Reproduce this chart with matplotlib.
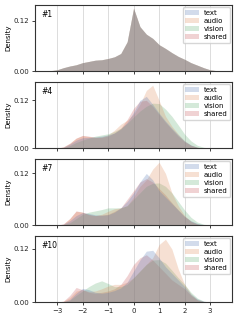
import matplotlib
matplotlib.use("Agg")
import matplotlib.pyplot as plt
from matplotlib.patches import Patch

grid = [-3.5, -3.25, -3.0, -2.75, -2.5, -2.25, -2.0, -1.75, -1.5, -1.25, -1.0, -0.75, -0.5, -0.25,
        0.0, 0.25, 0.5, 0.75, 1.0, 1.25, 1.5, 1.75, 2.0, 2.25, 2.5, 2.75, 3.0, 3.25, 3.5]

modalities = ["text", "audio", "vision", "shared"]
panel_labels = ["#1", "#4", "#7", "#10"]

p1_all = [0, 0.001, 0.003, 0.008, 0.012, 0.015, 0.020, 0.023, 0.026, 0.027, 0.030, 0.034, 0.042, 0.070,
          0.150, 0.106, 0.088, 0.078, 0.063, 0.054, 0.044, 0.035, 0.028, 0.020, 0.014, 0.008, 0.003, 0.001, 0]

p4_text = [0, 0, 0, 0.002, 0.010, 0.020, 0.026, 0.027, 0.028, 0.030, 0.033, 0.038, 0.048, 0.065,
           0.090, 0.120, 0.130, 0.110, 0.088, 0.068, 0.050, 0.033, 0.018, 0.008, 0.002, 0, 0, 0, 0]
p4_audio = [0, 0, 0, 0.003, 0.012, 0.025, 0.031, 0.029, 0.027, 0.028, 0.033, 0.045, 0.060, 0.070,
            0.085, 0.110, 0.145, 0.158, 0.120, 0.080, 0.055, 0.035, 0.018, 0.007, 0.002, 0, 0, 0, 0]
p4_vision = [0, 0, 0, 0.001, 0.006, 0.014, 0.020, 0.025, 0.030, 0.033, 0.036, 0.042, 0.050, 0.062,
             0.078, 0.093, 0.105, 0.113, 0.112, 0.098, 0.080, 0.058, 0.035, 0.018, 0.007, 0.002, 0, 0, 0]
p4_shared = [0, 0, 0, 0.003, 0.012, 0.025, 0.032, 0.030, 0.027, 0.027, 0.030, 0.038, 0.050, 0.072,
             0.100, 0.118, 0.120, 0.105, 0.085, 0.065, 0.047, 0.030, 0.016, 0.007, 0.002, 0, 0, 0, 0]

p7_text = [0, 0, 0, 0.002, 0.010, 0.022, 0.029, 0.027, 0.024, 0.023, 0.024, 0.030, 0.040, 0.055,
           0.075, 0.100, 0.120, 0.105, 0.080, 0.065, 0.050, 0.035, 0.020, 0.010, 0.004, 0.001, 0, 0, 0]
p7_audio = [0, 0, 0, 0.002, 0.015, 0.032, 0.030, 0.024, 0.022, 0.025, 0.032, 0.038, 0.040, 0.045,
            0.065, 0.090, 0.105, 0.130, 0.146, 0.120, 0.075, 0.045, 0.022, 0.008, 0.002, 0, 0, 0, 0]
p7_vision = [0, 0, 0, 0.001, 0.005, 0.015, 0.025, 0.030, 0.033, 0.036, 0.040, 0.040, 0.040, 0.045,
             0.060, 0.075, 0.090, 0.097, 0.098, 0.090, 0.075, 0.055, 0.035, 0.018, 0.007, 0.002, 0, 0, 0]
p7_shared = [0, 0, 0, 0.003, 0.015, 0.033, 0.030, 0.025, 0.022, 0.023, 0.025, 0.032, 0.040, 0.060,
             0.080, 0.100, 0.108, 0.100, 0.085, 0.070, 0.052, 0.035, 0.020, 0.009, 0.003, 0, 0, 0, 0]

p10_text = [0, 0, 0, 0.001, 0.006, 0.020, 0.031, 0.028, 0.022, 0.020, 0.022, 0.026, 0.032, 0.045,
            0.070, 0.095, 0.115, 0.117, 0.100, 0.080, 0.065, 0.050, 0.035, 0.018, 0.007, 0.002, 0, 0, 0]
p10_audio = [0, 0, 0, 0.002, 0.010, 0.025, 0.028, 0.024, 0.025, 0.030, 0.036, 0.040, 0.040, 0.045,
             0.055, 0.070, 0.085, 0.100, 0.130, 0.142, 0.120, 0.075, 0.040, 0.018, 0.005, 0.001, 0, 0, 0]
p10_vision = [0, 0, 0, 0.001, 0.004, 0.015, 0.025, 0.035, 0.043, 0.048, 0.042, 0.035, 0.035, 0.040,
              0.055, 0.070, 0.085, 0.095, 0.096, 0.088, 0.072, 0.055, 0.040, 0.022, 0.009, 0.002, 0, 0, 0]
p10_shared = [0, 0, 0, 0.002, 0.015, 0.033, 0.028, 0.022, 0.020, 0.022, 0.025, 0.030, 0.040, 0.060,
              0.085, 0.100, 0.107, 0.095, 0.080, 0.065, 0.050, 0.040, 0.030, 0.015, 0.005, 0.001, 0, 0, 0]

panels = [
    [p1_all, p1_all, p1_all, p1_all],
    [p4_text, p4_audio, p4_vision, p4_shared],
    [p7_text, p7_audio, p7_vision, p7_shared],
    [p10_text, p10_audio, p10_vision, p10_shared],
]

xticks = [-3, -2, -1, 0, 1, 2, 3]
yticks = [0.0, 0.12]
colors = ["#4c72b0", "#dd8452", "#55a868", "#c44e52"]

fig = plt.figure(figsize=(2.4, 3.2), dpi=100)
axes = fig.subplots(4, 1)
fig.subplots_adjust(left=0.146, right=0.967, top=0.984, bottom=0.056, hspace=0.167)

for i, (ax, series, lab) in enumerate(zip(axes, panels, panel_labels)):
    ax.set_axisbelow(True)
    ax.grid(axis="x", color="#dcdcdc", lw=0.7)
    for name, vals, c in reversed(list(zip(modalities, series, colors))):
        ax.fill_between(grid, vals, color=c, alpha=0.25, lw=0)
    ymax = max(max(s) for s in series)
    ax.set_ylim(0, ymax * 1.05)
    ax.set_xlim(-3.86, 3.86)
    ax.set_xticks(xticks)
    ax.set_yticks(yticks)
    ax.set_yticklabels(["%.2f" % v for v in yticks])
    if i < 3:
        ax.set_xticklabels([])
    ax.tick_params(labelsize=5, length=2.5, width=0.6, pad=1.5, colors="#222222")
    for sp in ax.spines.values():
        sp.set_linewidth(0.8)
        sp.set_color("#333333")
    ax.set_ylabel("Density", fontsize=5, labelpad=2)
    ax.text(0.03, 0.92, lab, transform=ax.transAxes, fontsize=5.5, va="top", ha="left")
    handles = [Patch(facecolor=c, alpha=0.25, label=m) for m, c in zip(modalities, colors)]
    ax.legend(handles=handles, loc="upper right", fontsize=5, frameon=True, framealpha=0.8,
              edgecolor="#cccccc", borderpad=0.4, labelspacing=0.3, handlelength=2.0,
              handletextpad=0.6, borderaxespad=0.3, fancybox=True)

fig.savefig("out.png", dpi=100)
